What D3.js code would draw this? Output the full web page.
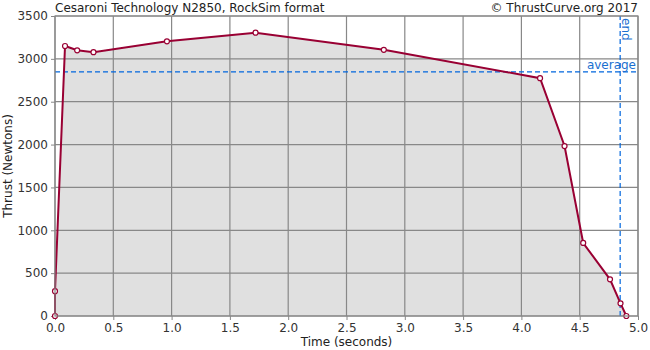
<!DOCTYPE html>
<html>
<head>
<meta charset="utf-8">
<script src="https://cdn.jsdelivr.net/npm/d3@7"></script>
<style>
  body { margin: 0; background: #fff; }
  text { font-family: "DejaVu Sans", sans-serif; }
</style>
</head>
<body>
<div id="plot"></div>
<script>
const width = 650;
const height = 350;
const margin = { top: 16, right: 12, bottom: 34, left: 55 };

// thrust curve samples (seconds, newtons)
const times = [0.0, 0.0, 0.086, 0.19, 0.33, 0.96, 1.72, 2.82, 4.16, 4.37, 4.53, 4.76, 4.85, 4.9];
const thrusts = [0, 290, 3150, 3100, 3078, 3205, 3305, 3105, 2775, 1983, 852, 428, 148, 0];
const xTicks = [0, 0.5, 1, 1.5, 2, 2.5, 3, 3.5, 4, 4.5, 5];
const yTicks = [0, 500, 1000, 1500, 2000, 2500, 3000, 3500];
const averageThrust = 2848;
const burnEnd = 4.847;
const title = "Cesaroni Technology N2850, RockSim format";
const credit = "\u00a9 ThrustCurve.org 2017";

const points = times.map((t, i) => ({ t: t, f: thrusts[i] }));

const svg = d3.select("#plot").append("svg").attr("width", width).attr("height", height);

const x = d3.scaleLinear().domain([0, 5]).range([margin.left, width - margin.right]);
const y = d3.scaleLinear().domain([0, 3500]).range([height - margin.bottom, margin.top]);

// area under the curve
svg.append("path")
    .datum(points)
    .attr("fill", "#e0e0e0")
    .attr("d", d3.area().x(d => x(d.t)).y0(y(0)).y1(d => y(d.f)));

// grid
svg.append("g").selectAll("line").data(xTicks).enter().append("line")
    .attr("x1", d => x(d)).attr("x2", d => x(d))
    .attr("y1", y(0)).attr("y2", y(3500))
    .attr("stroke", "#888").attr("stroke-width", 1.2);
svg.append("g").selectAll("line").data(yTicks).enter().append("line")
    .attr("x1", x(0)).attr("x2", x(5))
    .attr("y1", d => y(d)).attr("y2", d => y(d))
    .attr("stroke", "#888").attr("stroke-width", 1.2);

// axes
const xAxis = svg.append("g")
    .attr("transform", `translate(0,${y(0)})`)
    .call(d3.axisBottom(x).tickValues(xTicks).tickFormat(d3.format(".1f")).tickSize(4).tickPadding(3));
const yAxis = svg.append("g")
    .attr("transform", `translate(${x(0)},0)`)
    .call(d3.axisLeft(y).tickValues(yTicks).tickFormat(d3.format("d")).tickSize(4).tickPadding(3));
[xAxis, yAxis].forEach(a => {
    a.select(".domain").remove();
    a.selectAll("line").attr("stroke", "#888");
    a.selectAll("text").attr("font-size", 12).attr("fill", "#333")
        .style("font-family", "'DejaVu Sans', sans-serif");
});

// average + end markers
svg.append("line")
    .attr("x1", x(0)).attr("x2", x(5))
    .attr("y1", y(averageThrust)).attr("y2", y(averageThrust))
    .attr("stroke", "#0066dd").attr("stroke-width", 1.2).attr("stroke-dasharray", "5,3");
svg.append("line")
    .attr("x1", x(burnEnd)).attr("x2", x(burnEnd))
    .attr("y1", y(0)).attr("y2", y(3500))
    .attr("stroke", "#0066dd").attr("stroke-width", 1.2).attr("stroke-dasharray", "5,3");
svg.append("text")
    .attr("x", x(5) - 2).attr("y", y(averageThrust) - 3)
    .attr("text-anchor", "end").attr("font-size", 12).attr("fill", "#1a6fd0")
    .text("average");
svg.append("text")
    .attr("transform", `translate(${x(burnEnd) + 2},${y(3500) + 2}) rotate(90)`)
    .attr("font-size", 12).attr("fill", "#1a6fd0")
    .text("end");

// the curve
svg.append("path")
    .datum(points)
    .attr("fill", "none")
    .attr("stroke", "#990033")
    .attr("stroke-width", 2)
    .attr("d", d3.line().x(d => x(d.t)).y(d => y(d.f)));
svg.selectAll(".dot").data(points).enter().append("circle")
    .attr("class", "dot")
    .attr("cx", d => x(d.t)).attr("cy", d => y(d.f))
    .attr("r", 2.5)
    .attr("fill", "#fff").attr("stroke", "#990033").attr("stroke-width", 1.2);

// plot border
svg.append("rect")
    .attr("x", x(0)).attr("y", y(3500))
    .attr("width", x(5) - x(0)).attr("height", y(0) - y(3500))
    .attr("fill", "none").attr("stroke", "#888").attr("stroke-width", 1.2);

// titles
svg.append("text").attr("x", x(0)).attr("y", 12)
    .attr("font-size", 12).attr("fill", "#222").text(title);
svg.append("text").attr("x", x(5)).attr("y", 12)
    .attr("text-anchor", "end").attr("font-size", 12).attr("fill", "#222").text(credit);
svg.append("text").attr("x", (x(0) + x(5)) / 2).attr("y", 346)
    .attr("text-anchor", "middle").attr("font-size", 12).attr("fill", "#222").text("Time (seconds)");
svg.append("text")
    .attr("transform", `translate(12,${(y(0) + y(3500)) / 2}) rotate(-90)`)
    .attr("text-anchor", "middle").attr("font-size", 12).attr("fill", "#222").text("Thrust (Newtons)");
</script>
</body>
</html>
